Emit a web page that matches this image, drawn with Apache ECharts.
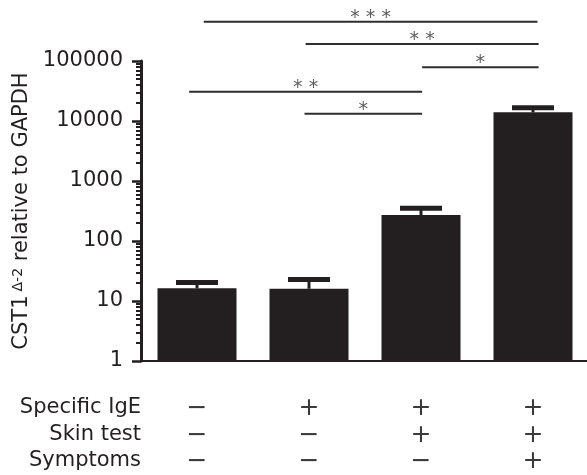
<!DOCTYPE html>
<html>
<head>
<meta charset="utf-8">
<script src="https://cdn.jsdelivr.net/npm/echarts@6/dist/echarts.min.js"></script>
<style>html,body{margin:0;padding:0;background:#fff}#c{width:587px;height:475px}</style>
</head>
<body>
<div id="c"></div>
<script>
const categories = ['G1', 'G2', 'G3', 'G4'];
const means = [16.3, 16.0, 271, 13960];
const upperErr = [20.3, 22.8, 351, 16660];
const yTicks = [1, 10, 100, 1000, 10000, 100000];
const specificIgE = ['−', '+', '+', '+'];
const skinTest = ['−', '−', '+', '+'];
const symptoms = ['−', '−', '−', '+'];
const rowLabels = ['Specific IgE', 'Skin test', 'Symptoms'];
const bracketFrom = [0.06, 0.97, 2.01, -0.07, 0.96];
const bracketTo = [3.04, 3.05, 3.05, 2.01, 2.01];
const bracketLevel = [452000, 192000, 78500, 30800, 13200];
const bracketStars = ['* * *', '* *', '*', '* *', '*'];

const INK = '#231f20';
const FONT = 'DejaVu Sans';

const minorTicks = [];
for (let k = 0; k < 5; k++) for (let m = 2; m <= 9; m++) minorTicks.push(m * Math.pow(10, k));

const rowSymbols = [specificIgE, skinTest, symptoms];
const rowOffsets = [47, 74, 100];

const tableAxes = rowSymbols.map((syms, r) => ({
  type: 'category', gridIndex: 0, position: 'bottom', offset: rowOffsets[r],
  data: categories,
  axisLine: { show: false, onZero: false },
  axisTick: { show: false },
  splitLine: { show: false },
  axisLabel: {
    margin: 0, verticalAlign: 'middle', interval: 0,
    formatter: (v, i) => syms[i],
    fontSize: 25, fontFamily: FONT, color: '#3a3a3a'
  },
  name: rowLabels[r], nameLocation: 'start', nameGap: 0,
  nameTextStyle: { fontSize: 21, fontFamily: FONT, color: INK, align: 'right', verticalAlign: 'middle' }
}));

const bracketSeries = bracketLevel.map((lv, i) => ({
  type: 'line', xAxisIndex: 1, yAxisIndex: 0, clip: false, silent: true,
  symbol: 'none', lineStyle: { color: '#2e2e2e', width: 2 },
  data: [[bracketFrom[i], lv], [bracketTo[i], lv]]
}));

const starSeries = {
  type: 'scatter', xAxisIndex: 1, yAxisIndex: 0, clip: false, silent: true,
  symbolSize: 0,
  data: bracketLevel.map((lv, i) => [(bracketFrom[i] + bracketTo[i]) / 2, lv, bracketStars[i]]),
  label: {
    show: true, position: 'inside', offset: [0, -4],
    formatter: p => p.data[2],
    fontSize: 19, fontFamily: FONT, color: '#333'
  }
};

const chart = echarts.init(document.getElementById('c'), null, { renderer: 'canvas' });
chart.setOption({
  animation: false,
  backgroundColor: '#fff',
  grid: { left: 141, top: 61, width: 448, height: 300, containLabel: false, outerBoundsMode: 'none' },
  xAxis: [
    {
      type: 'category', gridIndex: 0, position: 'bottom', data: categories,
      axisLine: { onZero: false, lineStyle: { color: INK, width: 2 } },
      axisTick: { alignWithLabel: true, length: 8, lineStyle: { color: INK, width: 2.5 } },
      axisLabel: { show: false },
      splitLine: { show: false }
    },
    { type: 'value', gridIndex: 0, position: 'bottom', min: -0.5, max: 3.5, show: false },
    ...tableAxes
  ],
  yAxis: [
    {
      type: 'log', logBase: 10, min: 1, max: 100000, position: 'left',
      axisLine: { show: true, onZero: false, lineStyle: { color: INK, width: 3 } },
      axisTick: { show: true, length: 9, customValues: yTicks, lineStyle: { color: INK, width: 2.5 } },
      axisLabel: {
        customValues: yTicks, margin: 18,
        formatter: v => String(Math.round(v)),
        fontSize: 21, fontFamily: FONT, color: INK
      },
      splitLine: { show: false },
      name: '{a|CST1}{s|Δ-2}{a| relative to GAPDH}',
      nameLocation: 'middle', nameGap: 100, nameRotate: 90,
      nameTextStyle: {
        fontFamily: FONT, color: INK,
        rich: {
          a: { fontSize: 21, fontFamily: FONT, color: INK },
          s: { fontSize: 14, fontFamily: FONT, color: INK, verticalAlign: 'top', padding: [0, 0, 0, 4] }
        }
      }
    },
    {
      type: 'log', logBase: 10, min: 1, max: 100000, position: 'left',
      axisLine: { show: false, onZero: false },
      axisTick: { show: true, length: 5, customValues: minorTicks, lineStyle: { color: INK, width: 2 } },
      axisLabel: { show: false },
      splitLine: { show: false }
    }
  ],
  series: [
    {
      type: 'bar', xAxisIndex: 0, yAxisIndex: 0, barWidth: 79,
      itemStyle: { color: INK },
      data: means
    },
    {
      type: 'custom', xAxisIndex: 0, yAxisIndex: 0, clip: false, silent: true,
      data: means.map((m, i) => [i, m, upperErr[i]]),
      encode: { x: 0, y: [1, 2] },
      renderItem: (params, api) => {
        const base = api.coord([api.value(0), api.value(1)]);
        const top = api.coord([api.value(0), api.value(2)]);
        return {
          type: 'group',
          children: [
            { type: 'rect', shape: { x: base[0] - 1.5, y: top[1], width: 3, height: base[1] - top[1] }, style: { fill: INK } },
            { type: 'rect', shape: { x: top[0] - 21, y: top[1] - 2.5, width: 42, height: 5 }, style: { fill: INK } }
          ]
        };
      }
    },
    ...bracketSeries,
    starSeries
  ]
});
</script>
</body>
</html>
